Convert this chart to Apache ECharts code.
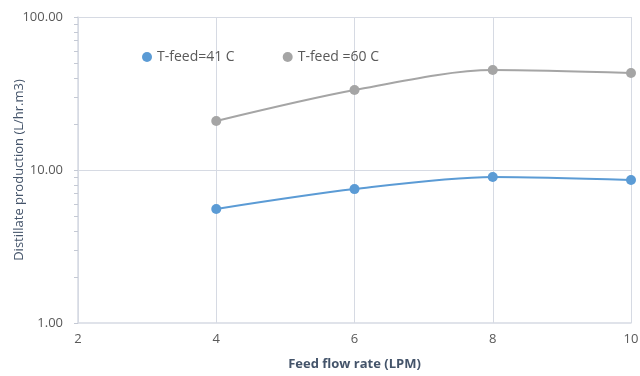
<!DOCTYPE html>
<html><head><meta charset="utf-8">
<script src="https://cdn.jsdelivr.net/npm/echarts@6/dist/echarts.min.js"></script>
<style>html,body{margin:0;padding:0;background:#fff}#c{width:640px;height:376px}</style>
</head><body><div id="c"></div>
<script>
const xValues = [4, 6, 8, 10];
const seriesNames = ['T-feed=41 C', 'T-feed =60 C'];
const tfeed41 = [5.56, 7.5, 9.0, 8.6];
const tfeed60 = [20.9, 33.3, 45.0, 43.0];
const xTicks = [2, 4, 6, 8, 10];
const yTicks = [1, 10, 100];
const yMinorTicks = [2, 3, 4, 5, 6, 7, 8, 9, 20, 30, 40, 50, 60, 70, 80, 90];

const chart = echarts.init(document.getElementById('c'), null, {renderer: 'canvas'});
const font = '"Open Sans", "Noto Sans", sans-serif';
const lineCol = '#D6DAE3';
chart.setOption({
  animation: false,
  textStyle: {fontFamily: font},
  legend: {
    data: seriesNames,
    left: 142, top: 50,
    icon: 'circle', itemWidth: 10, itemHeight: 10, itemGap: 48,
    textStyle: {color: '#595959', fontSize: 14, fontFamily: font},
    padding: 0
  },
  grid: {left: 78, right: 9, top: 17, bottom: 53, containLabel: false, outerBoundsMode: 'none'},
  xAxis: {
    type: 'value', min: 2, max: 10, interval: 2,
    name: 'Feed flow rate (LPM)', nameLocation: 'middle', nameGap: 35,
    nameTextStyle: {color: '#44546A', fontSize: 13, fontWeight: 'bold', fontFamily: font},
    axisLine: {show: true, lineStyle: {color: lineCol, width: 1.5}},
    axisTick: {show: false},
    axisLabel: {color: '#595959', fontSize: 13, margin: 10, formatter: v => xTicks.includes(v) ? String(v) : ''},
    splitLine: {show: true, lineStyle: {color: lineCol, width: 1}}
  },
  yAxis: {
    type: 'log', logBase: 10, min: yTicks[0], max: yTicks[yTicks.length - 1],
    name: 'Distillate production (L/hr.m3)', nameLocation: 'middle', nameGap: 52,
    nameMoveOverlap: false,
    nameTextStyle: {color: '#44546A', fontSize: 13, fontFamily: font},
    axisLine: {show: true, lineStyle: {color: lineCol, width: 1.5}},
    axisTick: {show: true, inside: false, customValues: yMinorTicks.concat(yTicks), length: 4, lineStyle: {color: '#C4C9D4', width: 1}},
    axisLabel: {color: '#595959', fontSize: 13, margin: 15, customValues: yTicks, formatter: v => Number(v).toFixed(2)},
    splitLine: {show: false}
  },
  series: [
    {name: seriesNames[0], type: 'line', smooth: 0.3, symbol: 'circle', symbolSize: 10,
     itemStyle: {color: '#5B9BD5'}, lineStyle: {color: '#5B9BD5', width: 2},
     markLine: {silent: true, symbol: 'none', animation: false, label: {show: false},
       lineStyle: {color: lineCol, width: 1, type: 'solid'},
       emphasis: {disabled: true},
       data: yTicks.slice(1).map(v => ({yAxis: v}))},
     data: xValues.map((x, i) => [x, tfeed41[i]])},
    {name: seriesNames[1], type: 'line', smooth: 0.3, symbol: 'circle', symbolSize: 10,
     itemStyle: {color: '#A5A5A5'}, lineStyle: {color: '#A5A5A5', width: 2},
     data: xValues.map((x, i) => [x, tfeed60[i]])}
  ]
});
</script></body></html>
